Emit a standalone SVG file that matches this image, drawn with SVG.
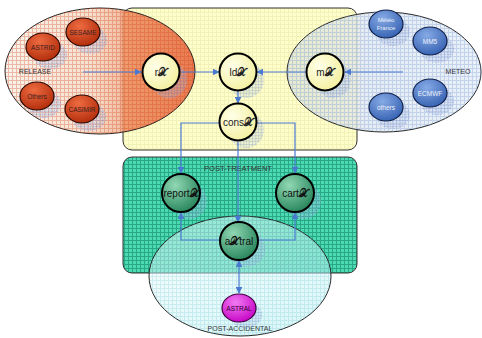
<svg xmlns="http://www.w3.org/2000/svg" width="482" height="338" viewBox="0 0 482 338">
<defs>
<style>
.lbl{font-family:"Liberation Sans",Arial,sans-serif;font-size:7px;fill:#333;text-anchor:middle}
.sub{font-family:"Liberation Sans",Arial,sans-serif;font-size:6.5px;fill:#3a2020;text-anchor:middle}
.subb{font-family:"Liberation Sans",Arial,sans-serif;font-size:6.5px;fill:#eef2fa;text-anchor:middle}
.nt{font-family:"Liberation Sans",Arial,sans-serif;font-size:10px;fill:#222;text-anchor:middle}
.ntg{font-family:"Liberation Sans",Arial,sans-serif;font-size:10px;fill:#111;text-anchor:middle}
.x{font-family:"DejaVu Serif","Liberation Serif",serif;font-size:11px;font-weight:bold}
.yn{fill:url(#gY);stroke:#000;stroke-width:2}
.gn{fill:url(#gG);stroke:#000;stroke-width:2}
.rn{fill:url(#gR);stroke:#2a0800;stroke-width:1.2}
.bn{fill:url(#gB);stroke:#10204a;stroke-width:1.2}
.sh{fill:url(#hatch);opacity:0.55}
.con{fill:none;stroke:#4a7ad0;stroke-width:1.2}
</style>
<pattern id="gridY" width="4" height="4" patternUnits="userSpaceOnUse"><rect width="4" height="4" fill="#ffffcc"/><path d="M0 0.5H4M0.5 0V4" stroke="#f2f2b8" stroke-width="1"/></pattern>
<pattern id="gridG" width="4" height="4" patternUnits="userSpaceOnUse"><rect width="4" height="4" fill="#4cdab4"/><path d="M0 0.5H4M0.5 0V4" stroke="#2aa886" stroke-width="1"/></pattern>
<pattern id="gridR" width="4" height="4" patternUnits="userSpaceOnUse"><path d="M0 0.5H4M0.5 0V4" stroke="#d84a28" stroke-width="1" opacity="0.35"/></pattern>
<pattern id="gridB" width="4" height="4" patternUnits="userSpaceOnUse"><path d="M0 0.5H4M0.5 0V4" stroke="#8aa8d8" stroke-width="1" opacity="0.4"/></pattern>
<pattern id="gridC" width="4" height="4" patternUnits="userSpaceOnUse"><path d="M0 0.5H4M0.5 0V4" stroke="#80c8d8" stroke-width="1" opacity="0.3"/></pattern>
<pattern id="hatch" width="3" height="3" patternUnits="userSpaceOnUse"><rect width="3" height="3" fill="#b8c8e8" opacity="0.5"/><path d="M0 0H3M0 0V3" stroke="#5a78c0" stroke-width="0.7"/></pattern>
<linearGradient id="gRel" gradientUnits="userSpaceOnUse" x1="5" y1="0" x2="195" y2="0"><stop offset="0" stop-color="#f6f1e8"/><stop offset="0.45" stop-color="#f4dcc8"/><stop offset="0.6" stop-color="#f0b898"/><stop offset="0.63" stop-color="#ec8a5c"/><stop offset="1" stop-color="#e4643a"/></linearGradient>
<linearGradient id="gMet" gradientUnits="userSpaceOnUse" x1="287" y1="0" x2="481" y2="0"><stop offset="0" stop-color="#e2e6d0"/><stop offset="0.36" stop-color="#e4e8e0"/><stop offset="0.4" stop-color="#e0e8f0"/><stop offset="1" stop-color="#e6eef8"/></linearGradient>
<linearGradient id="gAcc" x1="0" y1="0" x2="0.5" y2="1"><stop offset="0" stop-color="#ffffff"/><stop offset="1" stop-color="#b0eef0"/></linearGradient>
<radialGradient id="gY" cx="0.35" cy="0.35" r="0.7"><stop offset="0" stop-color="#ffffe8"/><stop offset="1" stop-color="#f4f0a0"/></radialGradient>
<radialGradient id="gG" cx="0.35" cy="0.3" r="0.75"><stop offset="0" stop-color="#90d8b4"/><stop offset="1" stop-color="#26845a"/></radialGradient>
<radialGradient id="gR" cx="0.4" cy="0.3" r="0.75"><stop offset="0" stop-color="#ee6a40"/><stop offset="1" stop-color="#b02c0a"/></radialGradient>
<radialGradient id="gB" cx="0.4" cy="0.3" r="0.75"><stop offset="0" stop-color="#86aae6"/><stop offset="1" stop-color="#3460b0"/></radialGradient>
<radialGradient id="gM" cx="0.4" cy="0.3" r="0.75"><stop offset="0" stop-color="#f27af2"/><stop offset="1" stop-color="#c400c4"/></radialGradient>
<marker id="ar" viewBox="0 0 10 10" refX="9" refY="5" markerWidth="7" markerHeight="7" orient="auto-start-reverse" markerUnits="userSpaceOnUse"><path d="M0 0L10 5L0 10z" fill="#4a7ad0"/></marker>
</defs>

<g id="yellow-box"><rect x="123" y="8" width="234" height="142" rx="9" fill="url(#gridY)" stroke="#333" stroke-width="1"/></g>

<g id="release">
<ellipse cx="100" cy="71" rx="95" ry="63" fill="url(#gRel)" fill-opacity="0.85" stroke="#222" stroke-width="1"/>
<ellipse cx="100" cy="71" rx="95" ry="63" fill="url(#gridR)" stroke="none"/>
<text class="lbl" x="35" y="74">RELEASE</text>
</g>

<g id="meteo">
<ellipse cx="384" cy="72" rx="97" ry="60" fill="url(#gMet)" fill-opacity="0.85" stroke="#222" stroke-width="1"/>
<ellipse cx="384" cy="72" rx="97" ry="60" fill="url(#gridB)" stroke="none"/>
<text class="lbl" x="458" y="74">METEO</text>
</g>

<g id="post-treatment"><rect x="123" y="157" width="234" height="116" rx="9" fill="url(#gridG)" stroke="#333" stroke-width="1"/>
<text class="lbl" x="238" y="171" style="font-size:7.5px">POST-TREATMENT</text></g>

<g id="post-accidental">
<ellipse cx="240" cy="276" rx="91" ry="60" fill="url(#gAcc)" fill-opacity="0.45" stroke="#222" stroke-width="1"/>
<ellipse cx="240" cy="276" rx="91" ry="60" fill="url(#gridC)" stroke="none"/>
<text class="lbl" x="240" y="331">POST-ACCIDENTAL</text>
</g>

<g id="shadows">
<ellipse class="sh" cx="90" cy="40" rx="17" ry="14"/>
<ellipse class="sh" cx="50" cy="55" rx="17" ry="14"/>
<ellipse class="sh" cx="44" cy="104" rx="17" ry="14"/>
<ellipse class="sh" cx="89" cy="117" rx="17" ry="14"/>
<ellipse class="sh" cx="393" cy="32" rx="17" ry="14"/>
<ellipse class="sh" cx="437" cy="49" rx="17" ry="14"/>
<ellipse class="sh" cx="437" cy="101" rx="17" ry="14"/>
<ellipse class="sh" cx="393" cy="115" rx="17" ry="14"/>
<circle class="sh" cx="169" cy="80" r="18"/>
<circle class="sh" cx="246" cy="80" r="18"/>
<circle class="sh" cx="333" cy="80" r="18"/>
<circle class="sh" cx="246" cy="130" r="18"/>
<circle class="sh" cx="189" cy="201" r="18"/>
<circle class="sh" cx="303" cy="201" r="18"/>
<circle class="sh" cx="247" cy="249" r="18"/>
<ellipse class="sh" cx="246" cy="315" rx="16" ry="13"/>
</g>

<g id="connectors">
<path class="con" d="M83 72H141" marker-end="url(#ar)"/>
<path class="con" d="M181 72H219" marker-end="url(#ar)"/>
<path class="con" d="M307 72H257" marker-end="url(#ar)"/>
<path class="con" d="M403 72H345" marker-end="url(#ar)"/>
<path class="con" d="M238 91V103" marker-end="url(#ar)"/>
<path class="con" d="M219 123H181V173" marker-end="url(#ar)"/>
<path class="con" d="M257 123H295V173" marker-end="url(#ar)"/>
<path class="con" d="M238 142V222" marker-end="url(#ar)"/>
<path class="con" d="M220 240H181V213" marker-end="url(#ar)"/>
<path class="con" d="M258 240H295V213" marker-end="url(#ar)"/>
<path class="con" d="M239 261V293" marker-start="url(#ar)" marker-end="url(#ar)"/>
</g>

<g id="SESAME"><ellipse class="rn" cx="83" cy="32" rx="17" ry="14"/><text class="sub" x="83" y="34.5">SESAME</text></g>
<g id="ASTRID"><ellipse class="rn" cx="43" cy="47" rx="17" ry="14"/><text class="sub" x="43" y="49.5">ASTRID</text></g>
<g id="Others"><ellipse class="rn" cx="37" cy="96" rx="17" ry="14"/><text class="sub" x="37" y="98.5">Others</text></g>
<g id="CASIMIR"><ellipse class="rn" cx="82" cy="109" rx="17" ry="14"/><text class="sub" x="82" y="111.5">CASIMIR</text></g>

<g id="meteo-france"><ellipse class="bn" cx="386" cy="24" rx="17" ry="14"/><text class="subb" x="386" y="22" style="font-size:6px">Météo</text><text class="subb" x="386" y="30" style="font-size:6px">France</text></g>
<g id="MM5"><ellipse class="bn" cx="430" cy="41" rx="17" ry="14"/><text class="subb" x="430" y="43.5">MM5</text></g>
<g id="ECMWF"><ellipse class="bn" cx="430" cy="93" rx="17" ry="14"/><text class="subb" x="430" y="95.5">ECMWF</text></g>
<g id="others"><ellipse class="bn" cx="386" cy="107" rx="17" ry="14"/><text class="subb" x="386" y="109.5">others</text></g>

<g id="rX"><circle class="yn" cx="161" cy="72" r="18.5"/><text class="nt" x="161" y="76">r<tspan class="x">𝒳</tspan></text></g>
<g id="ldX"><circle class="yn" cx="238" cy="72" r="18.5"/><text class="nt" x="238" y="76">ld<tspan class="x">𝒳</tspan></text></g>
<g id="mX"><circle class="yn" cx="325" cy="72" r="18.5"/><text class="nt" x="325" y="76">m<tspan class="x">𝒳</tspan></text></g>
<g id="consX"><circle class="yn" cx="238" cy="122" r="18.5"/><text class="nt" x="238" y="126">cons<tspan class="x">𝒳</tspan></text></g>
<g id="reportX"><circle class="gn" cx="181" cy="193" r="19"/><text class="ntg" x="181" y="197">report<tspan class="x">𝒳</tspan></text></g>
<g id="cartX"><circle class="gn" cx="295" cy="193" r="19"/><text class="ntg" x="295" y="197">cart<tspan class="x">𝒳</tspan></text></g>
<g id="aXtral"><circle class="gn" cx="239" cy="241" r="19"/><text class="ntg" x="239" y="245">a<tspan class="x">𝒳</tspan>tral</text></g>
<g id="ASTRAL"><ellipse cx="239" cy="308" rx="17" ry="14" fill="url(#gM)" stroke="#400040" stroke-width="1.2"/><text class="lbl" x="239" y="310.5" style="fill:#300030;font-size:6.5px">ASTRAL</text></g>
</svg>
